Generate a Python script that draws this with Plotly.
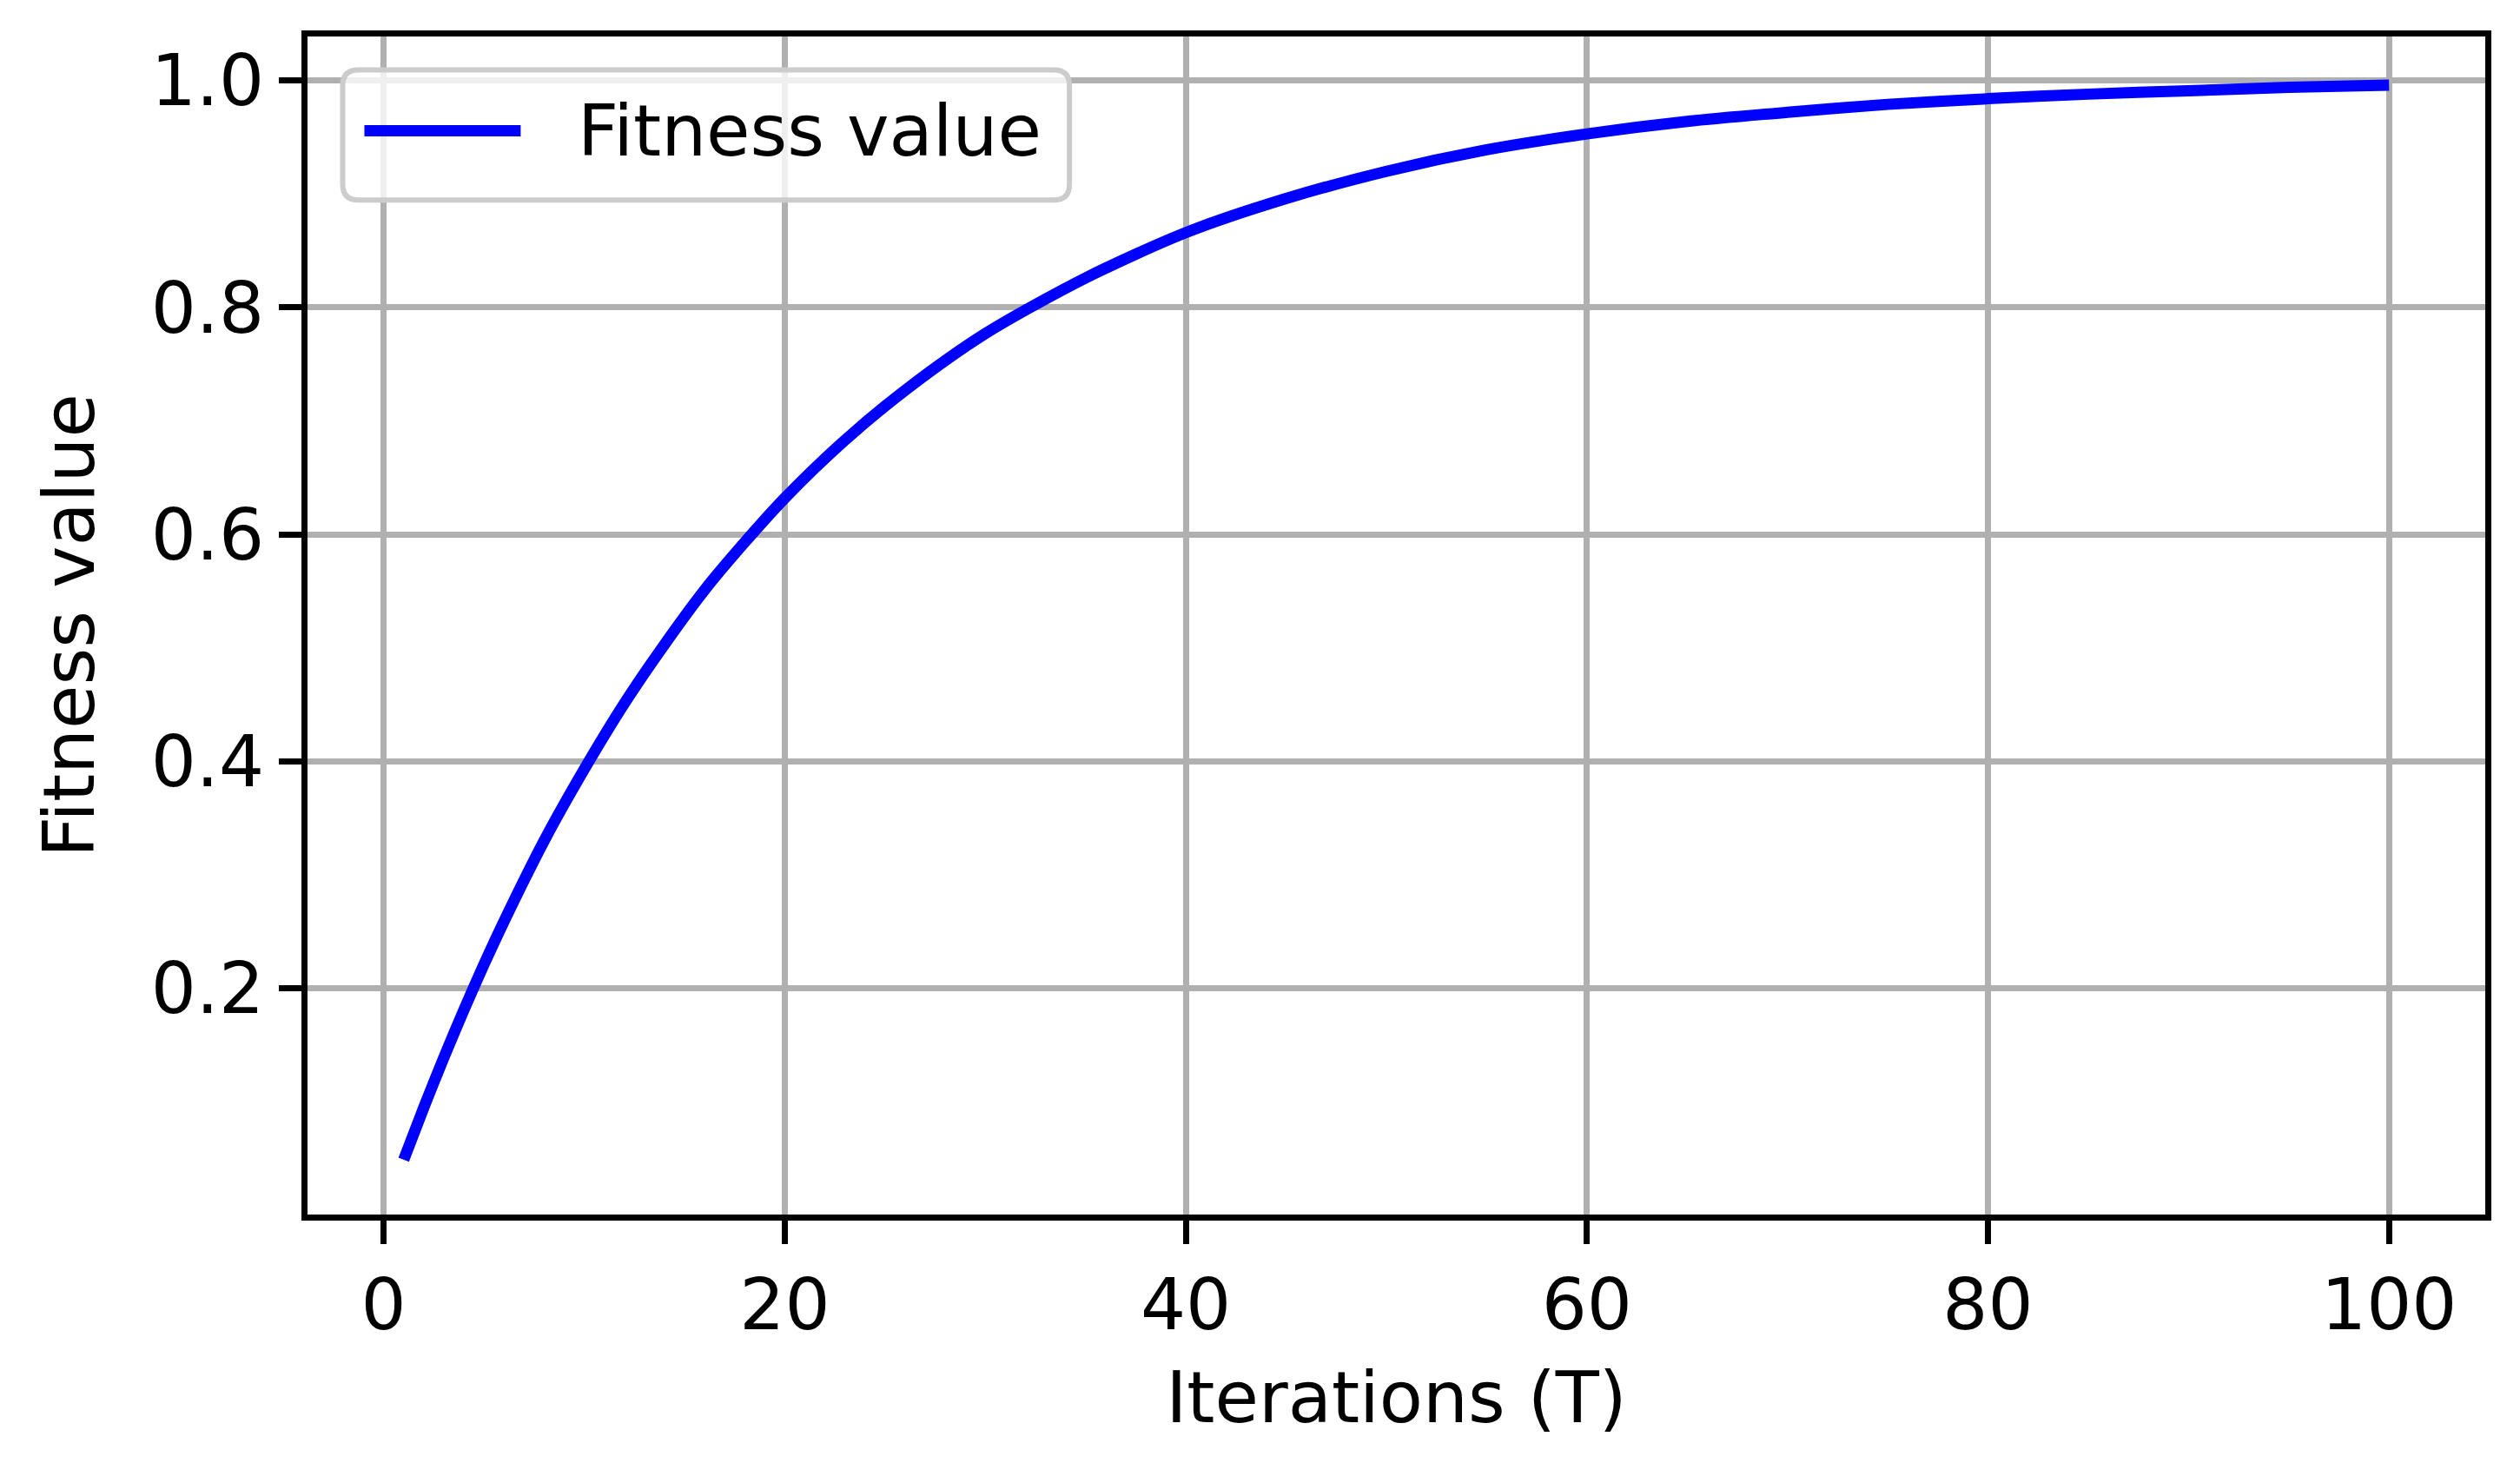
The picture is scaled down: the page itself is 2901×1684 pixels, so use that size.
import plotly.graph_objects as go

# ---- data ----
iterations = [1, 2, 3, 4, 5, 6, 8, 10, 12, 14, 16, 18, 20, 23, 26, 30, 35, 40, 45,
              50, 55, 60, 65, 70, 75, 80, 85, 90, 95, 100]
fitness = [0.049, 0.095, 0.139, 0.181, 0.221, 0.259, 0.330, 0.393, 0.451, 0.503,
           0.551, 0.593, 0.632, 0.683, 0.727, 0.777, 0.826, 0.866, 0.896,
           0.920, 0.939, 0.953, 0.964, 0.972, 0.979, 0.984, 0.988, 0.991, 0.994, 0.996]
x_ticks = [0, 20, 40, 60, 80, 100]
y_ticks = [0.2, 0.4, 0.6, 0.8, 1.0]
y_tick_labels = ["0.2", "0.4", "0.6", "0.8", "1.0"]
series_name = "Fitness value"
x_title = "Iterations (T)"
y_title = "Fitness value"

# ---- layout geometry (page pixels; the page body has an 8px margin) ----
OFF = 8
W_PAGE, H_PAGE = 2901, 1684
W_FIG, H_FIG = W_PAGE - OFF, H_PAGE - OFF
L, R, T, B = 350, 2865, 38, 1402          # spine centre lines in the reference
PW, PH = R - L, B - T
LW = 7                                     # spine / grid width
HALF = LW / 2                              # plotly draws axis lines outside the plot area
FONT = "DejaVu Sans"
FS = 82

X_RANGE = [-3.95, 104.95]                  # full range between spine centres
Y_RANGE = [-0.002, 1.0415]


def inset(rng, span):
    d = (rng[1] - rng[0]) * HALF / span
    return [rng[0] + d, rng[1] - d]


def px(x, y):
    return (x - L) / PW, (B - y) / PH


PW_IN, PH_IN = PW - LW, PH - LW


def ppx(x, y):
    # paper coordinates for the inset plot area
    return (x - (L + HALF)) / PW_IN, ((B - HALF) - y) / PH_IN


fig = go.Figure()
fig.add_trace(go.Scatter(
    x=iterations, y=fitness, mode="lines", name=series_name,
    line=dict(color="#0000ff", width=13, shape="spline", smoothing=0.8),
    showlegend=False,
))

axis_common = dict(
    ticks="outside", ticklen=30 - HALF, tickwidth=LW, tickcolor="black",
    showline=True, linewidth=LW, linecolor="black", mirror=True,
    showgrid=True, gridcolor="#b0b0b0", gridwidth=LW, zeroline=False,
    tickfont=dict(family=FONT, size=FS, color="black"),
)

fig.update_xaxes(range=inset(X_RANGE, PW), tickvals=x_ticks,
                 title=dict(text=x_title, font=dict(family=FONT, size=FS, color="black"), standoff=34),
                 **axis_common)
fig.update_yaxes(range=inset(Y_RANGE, PH), tickvals=y_ticks, ticktext=y_tick_labels,
                 title=dict(text=y_title, font=dict(family=FONT, size=FS, color="black"), standoff=40),
                 **axis_common)

# ---- legend drawn as shapes (matplotlib style) ----
bx0, by0, bx1, by1, rad = 394, 80, 1231, 230, 18
rx, ry = rad / PW_IN, rad / PH_IN
x0, y1p = ppx(bx0, by0)
x1, y0p = ppx(bx1, by1)
path = (f"M {x0+rx},{y1p} L {x1-rx},{y1p} Q {x1},{y1p} {x1},{y1p-ry} "
        f"L {x1},{y0p+ry} Q {x1},{y0p} {x1-rx},{y0p} "
        f"L {x0+rx},{y0p} Q {x0},{y0p} {x0},{y0p+ry} "
        f"L {x0},{y1p-ry} Q {x0},{y1p} {x0+rx},{y1p} Z")
fig.add_shape(type="path", path=path, xref="paper", yref="paper",
              fillcolor="rgba(255,255,255,0.8)", line=dict(color="#cccccc", width=6))
lx0, ly = ppx(419, 150)
lx1, _ = ppx(599, 150)
fig.add_shape(type="line", xref="paper", yref="paper", x0=lx0, x1=lx1, y0=ly, y1=ly,
              line=dict(color="#0000ff", width=13))
tx, ty = ppx(663, 150)
fig.add_annotation(x=tx, y=ty, xref="paper", yref="paper", text=series_name,
                   showarrow=False, xanchor="left", yanchor="middle",
                   font=dict(family=FONT, size=FS, color="black"))

fig.update_layout(
    width=W_FIG, height=H_FIG, autosize=False,
    margin=dict(l=L + HALF - OFF, r=W_PAGE - R + HALF, t=T + HALF - OFF, b=H_PAGE - B + HALF, pad=0),
    paper_bgcolor="white", plot_bgcolor="white",
    font=dict(family=FONT, size=FS, color="black"),
)

fig.write_html("out.html")
